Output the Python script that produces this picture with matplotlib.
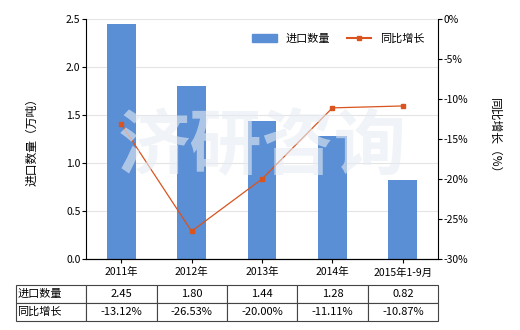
import matplotlib
matplotlib.use("Agg")
import matplotlib.pyplot as plt
from matplotlib.patches import Patch
from matplotlib.lines import Line2D

plt.rcParams['font.family'] = ['Noto Sans CJK SC', 'DejaVu Sans']
plt.rcParams['font.size'] = 7.5

categories = ["2011年", "2012年", "2013年", "2014年", "2015年1-9月"]
import_qty = [2.45, 1.80, 1.44, 1.28, 0.82]
growth = [-13.12, -26.53, -20.00, -11.11, -10.87]
qty_labels = ["2.45", "1.80", "1.44", "1.28", "0.82"]
growth_labels = ["-13.12%", "-26.53%", "-20.00%", "-11.11%", "-10.87%"]
row_names = ["进口数量", "同比增长"]

bar_color = "#5A8ED5"
line_color = "#D9541E"

fig = plt.figure(figsize=(5.2, 3.3), dpi=100)
ax = fig.add_axes([86 / 520, 1 - 259 / 330, 352 / 520, 240 / 330])
x = list(range(len(categories)))

ax.bar(x, import_qty, width=0.41, color=bar_color, zorder=2)
ax.set_xlim(-0.5, len(categories) - 0.5)
ax.set_ylim(0, 2.5)
ax.set_yticks([0, 0.5, 1.0, 1.5, 2.0, 2.5])
ax.set_yticklabels(["0.0", "0.5", "1.0", "1.5", "2.0", "2.5"])
ax.yaxis.grid(True, color="#e4e4e4", linewidth=0.8, zorder=0)
ax.set_xticks(x)
ax.set_xticklabels(categories)
ax.tick_params(axis="x", length=3, pad=3)
ax.tick_params(axis="y", length=3, pad=1)
ax.set_ylabel("进口数量（万吨）", fontsize=8.5, labelpad=20)
for s in ["top", "right"]:
    ax.spines[s].set_visible(False)

ax2 = ax.twinx()
ax2.plot(x, growth, color=line_color, linewidth=0.9, marker="s", markersize=3.5, zorder=3)
ax2.set_ylim(-30, 0)
ax2.set_yticks(range(-30, 1, 5))
ax2.set_yticklabels([f"{v}%" for v in range(-30, 1, 5)])
ax2.tick_params(axis="y", length=3, pad=1)
ax2.set_ylabel("同比增长（%）", fontsize=8.5, rotation=-90, labelpad=24)
for s in ["top", "left"]:
    ax2.spines[s].set_visible(False)

# watermark
ax2.text(0.5, 0.46, "济研咨询", transform=ax.transAxes, ha="center", va="center",
         fontsize=52, fontweight="bold", color="#e6ecf2", alpha=0.6, zorder=5)

handles = [Patch(color=bar_color), Line2D([], [], color=line_color, marker="s", markersize=3.5, linewidth=1.5)]
ax2.legend(handles, row_names, loc="upper right", bbox_to_anchor=(0.99, 0.98),
           ncol=2, frameon=False, fontsize=8, handlelength=2.2, columnspacing=1.5)

cells = [[row_names[0]] + qty_labels, [row_names[1]] + growth_labels]
tbl = ax.table(cellText=cells, cellLoc="center",
               bbox=[(16 - 86) / 352, (259 - 321) / 240, 422 / 352, 36 / 240])
tbl.auto_set_font_size(False)
tbl.set_fontsize(8)
for (r, c), cell in tbl.get_celld().items():
    cell.set_edgecolor("#444444")
    cell.set_linewidth(0.8)
    if c == 0:
        cell.set_text_props(ha="left")
        cell.PAD = 0.02

fig.savefig("out.png", dpi=100)
